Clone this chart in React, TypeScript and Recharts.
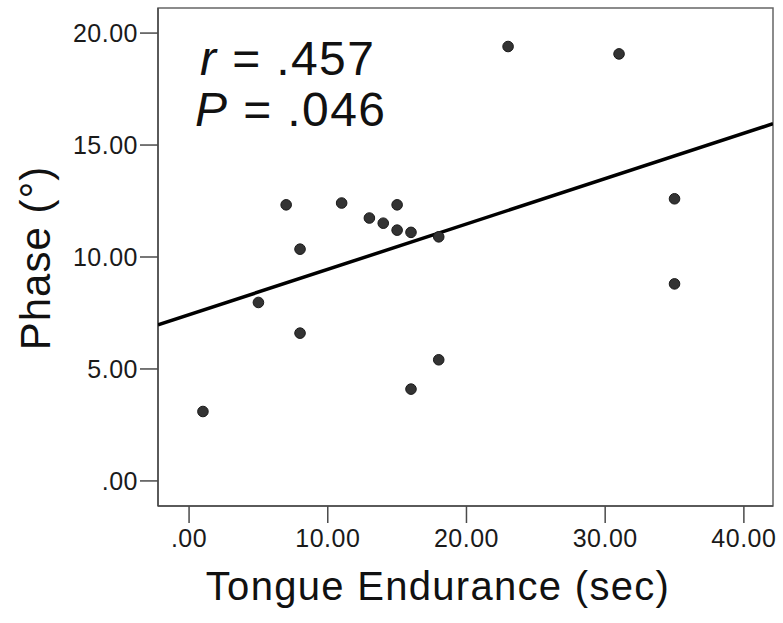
import React from 'react';
import { ScatterChart, Scatter, XAxis, YAxis, ReferenceArea } from 'recharts';

// values
const endurance = [1, 5, 7, 8, 8, 11, 13, 14, 15, 15, 16, 16, 18, 18, 23, 31, 35, 35];
const phase = [3.1, 7.97, 12.33, 10.35, 6.6, 12.41, 11.74, 11.51, 12.33, 11.2, 11.1, 4.1, 10.9, 5.41, 19.4, 19.07, 12.6, 8.8];

// fit line end points (left and right edge of the frame)
const fitX = [-2.24, 42.1];
const fitY = [6.97, 15.95];

const xTicks = [0, 10, 20, 30, 40];
const yTicks = [0, 5, 10, 15, 20];
const xDomain = [-2.24, 42.1];
const yDomain = [-1.12, 21.12];

const points = endurance.map((x, i) => ({ x, y: phase[i] }));
const fitLine = fitX.map((x, i) => ({ x, y: fitY[i] }));

const FONT = '"Liberation Sans", Arial, Helvetica, sans-serif';

const fmt = (v: number) => (v === 0 ? '.00' : v.toFixed(2));

const Dot = (props: any) => {
  const { cx, cy } = props;
  if (cx == null || cy == null) return <g />;
  return <circle cx={cx} cy={cy} r={5.3} fill="#333" stroke="#1a1a1a" strokeWidth={1} />;
};

const NoDot = () => <g />;

const XTick = (props: any) => {
  const { x, y, payload } = props;
  return (
    <text x={x} y={y + 17} textAnchor="middle" fill="#1a1a1a" fontSize={25} fontFamily={FONT} letterSpacing={0.5}>
      {fmt(payload.value)}
    </text>
  );
};

const YTick = (props: any) => {
  const { x, y, payload } = props;
  return (
    <text x={x} y={y + 9} textAnchor="end" fill="#1a1a1a" fontSize={25} fontFamily={FONT} letterSpacing={0.5}>
      {fmt(payload.value)}
    </text>
  );
};

const App: React.FC = () => {
  return (
    <div style={{ position: 'absolute', left: 0, top: 0, background: '#fff' }}>
      <ScatterChart width={783} height={623} margin={{ top: 8, right: 10, bottom: 0, left: 0 }}>
        <XAxis
          type="number"
          dataKey="x"
          domain={xDomain}
          allowDataOverflow
          ticks={xTicks}
          height={117}
          tickSize={17}
          tickMargin={7}
          stroke="#4a4a4a"
          strokeWidth={1.5}
          tick={XTick}
          label={() => (
            <text
              x={438}
              y={600}
              textAnchor="middle"
              fill="#111"
              fontSize={40}
              fontFamily={FONT}
              letterSpacing={1.3}
            >
              Tongue Endurance (sec)
            </text>
          )}
        />
        <YAxis
          type="number"
          dataKey="y"
          domain={yDomain}
          allowDataOverflow
          ticks={yTicks}
          width={158}
          tickSize={18}
          tickMargin={2}
          stroke="#4a4a4a"
          strokeWidth={1.5}
          tick={YTick}
          label={() => (
            <text
              x={50}
              y={258}
              transform="rotate(-90 50 258)"
              textAnchor="middle"
              fill="#111"
              fontSize={42}
              fontFamily={FONT}
              letterSpacing={1}
            >
              Phase (°)
            </text>
          )}
        />
        <ReferenceArea
          x1={xDomain[0]}
          x2={xDomain[1]}
          y1={yDomain[0]}
          y2={yDomain[1]}
          fill="none"
          stroke="#666"
          strokeWidth={1.5}
        />
        <Scatter
          data={fitLine}
          line={{ stroke: '#000', strokeWidth: 3.5 }}
          shape={NoDot}
          isAnimationActive={false}
        />
        <Scatter data={points} shape={Dot} isAnimationActive={false} />
        <text x={200} y={75} fill="#111" fontSize={48} fontFamily={FONT} letterSpacing={1.4}>
          <tspan fontStyle="italic">r</tspan> = .457
        </text>
        <text x={195} y={126} fill="#111" fontSize={48} fontFamily={FONT} letterSpacing={1.4}>
          <tspan fontStyle="italic">P</tspan> = .046
        </text>
      </ScatterChart>
    </div>
  );
};

export default App;
